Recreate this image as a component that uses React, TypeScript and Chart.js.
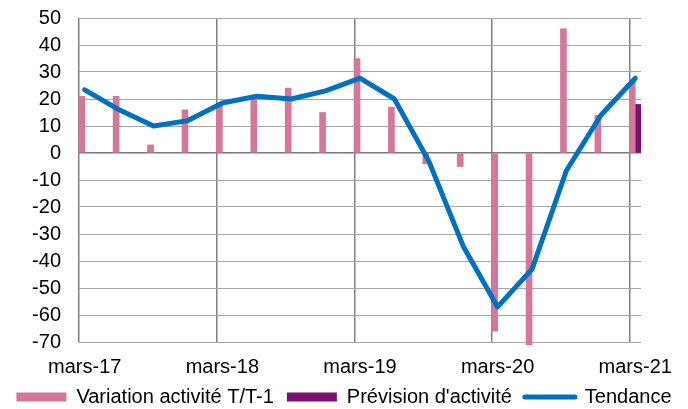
import React, { useEffect, useRef } from 'react';
import { Chart, registerables } from 'chart.js';

Chart.register(...registerables);

// Quarterly observations (mars-17 … mars-21)
const quarters = [
  'mars-17', 'juin-17', 'sept-17', 'déc.-17',
  'mars-18', 'juin-18', 'sept-18', 'déc.-18',
  'mars-19', 'juin-19', 'sept-19', 'déc.-19',
  'mars-20', 'juin-20', 'sept-20', 'déc.-20',
  'mars-21',
];
const variation = [21, 21, 3, 16, 18, 20, 24, 15, 35, 17, -4, -5, -66, -71, 46, 14, 27];
const prevision = [null, null, null, null, null, null, null, null, null, null, null, null, null, null, null, null, 18];
const tendance = [23.4, 16, 10, 12, 18.5, 21, 20, 23, 27.7, 20, -3, -34.5, -57, -43, -6.5, 14, 27.7];

const yearTickLabels = ['mars-17', 'mars-18', 'mars-19', 'mars-20', 'mars-21'];
const yTicks = [50, 40, 30, 20, 10, 0, -10, -20, -30, -40, -50, -60, -70];

const MONTHS_PER_QUARTER = 3;
const MONTHS_PER_YEAR = 12;
const TOTAL_MONTHS = (quarters.length - 1) * MONTHS_PER_QUARTER + 1;

const PINK = '#D5779A';
const PURPLE = '#7B1173';
const BLUE = '#0070C0';
const FONT = '"Liberation Sans", Arial, sans-serif';

const toPoints = (arr: (number | null)[]) =>
  arr.map((v, i) => ({ x: i * MONTHS_PER_QUARTER + 0.5, y: v }));

export default function App() {
  const ref = useRef<HTMLCanvasElement | null>(null);

  useEffect(() => {
    if (!ref.current) return;
    const chart = new Chart(ref.current, {
      type: 'bar',
      data: {
        datasets: [
          {
            type: 'bar',
            label: 'Variation activité T/T-1',
            data: toPoints(variation) as any,
            backgroundColor: PINK,
            barThickness: 6,
            order: 2,
            clip: 4 as any,
          },
          {
            type: 'bar',
            label: "Prévision d'activité",
            data: toPoints(prevision) as any,
            backgroundColor: PURPLE,
            barThickness: 6,
            order: 2,
          },
          {
            type: 'line',
            label: 'Tendance',
            data: toPoints(tendance) as any,
            borderColor: BLUE,
            backgroundColor: BLUE,
            borderWidth: 5,
            pointRadius: 0,
            borderJoinStyle: 'round',
            borderCapStyle: 'round',
            tension: 0,
            order: 1,
          } as any,
        ],
      },
      options: {
        responsive: false,
        animation: false,
        layout: { padding: { top: 18, left: 0, right: 0, bottom: -8 } },
        plugins: {
          tooltip: { enabled: false },
          legend: {
            position: 'bottom',
            labels: {
              color: '#000',
              font: { family: FONT, size: 20 },
              usePointStyle: true,
              pointStyleWidth: 50,
              boxHeight: 9,
              padding: 13,
              generateLabels: (c: any) => {
                const items = Chart.defaults.plugins.legend.labels.generateLabels(c);
                items.sort((a: any, b: any) => a.datasetIndex - b.datasetIndex);
                return items.map((it: any) => {
                  const ds: any = c.data.datasets[it.datasetIndex];
                  if (ds.type === 'line') {
                    return { ...it, pointStyle: 'line', lineWidth: 5, strokeStyle: BLUE, fillStyle: BLUE, lineCap: 'round' };
                  }
                  return { ...it, pointStyle: 'rect', lineWidth: 0, fillStyle: ds.backgroundColor, strokeStyle: ds.backgroundColor };
                });
              },
            },
          },
        },
        scales: {
          x: {
            type: 'linear',
            min: 0,
            max: TOTAL_MONTHS,
            offset: false,
            afterBuildTicks: (s: any) => {
              s.ticks = yearTickLabels.map((_, i) => ({ value: i * MONTHS_PER_YEAR }));
            },
            afterFit: (s: any) => {
              s.height = 32;
            },
            ticks: {
              color: '#000',
              font: { family: FONT, size: 20 },
              padding: 13,
              labelOffset: 5.7,
              maxRotation: 0,
              autoSkip: false,
              callback: (v: any) => yearTickLabels[Math.round(Number(v) / MONTHS_PER_YEAR)] ?? '',
            },
            grid: { color: '#808080', lineWidth: 1.5, drawTicks: false, offset: false },
            border: { display: false },
          },
          y: {
            type: 'linear',
            min: -70,
            max: 50,
            afterBuildTicks: (s: any) => {
              s.ticks = yTicks.map((v) => ({ value: v }));
            },
            afterFit: (s: any) => {
              s.width = 79;
              s.paddingTop = 0;
              s.paddingBottom = 0;
            },
            ticks: {
              color: '#000',
              font: { family: FONT, size: 20 },
              padding: 18,
              autoSkip: false,
              callback: (v: any) => String(v),
            },
            grid: {
              color: (ctx: any) => (ctx.tick && ctx.tick.value === 0 ? '#7a7a7a' : '#a6a6a6'),
              lineWidth: (ctx: any) => (ctx.tick && ctx.tick.value === 0 ? 1.5 : 1),
              drawTicks: false,
            },
            border: { display: false },
          },
          spacer: {
            type: 'linear',
            position: 'right',
            display: true,
            grid: { display: false, drawTicks: false },
            ticks: { display: false },
            border: { display: false },
            afterFit: (s: any) => {
              s.width = 47;
              s.paddingTop = 0;
              s.paddingBottom = 0;
            },
          },
        },
      },
    });
    return () => chart.destroy();
  }, []);

  return (
    <div style={{ position: 'absolute', left: 0, top: 0, width: 688, height: 409, background: '#fff' }}>
      <canvas ref={ref} width={688} height={409} style={{ display: 'block' }} />
    </div>
  );
}
